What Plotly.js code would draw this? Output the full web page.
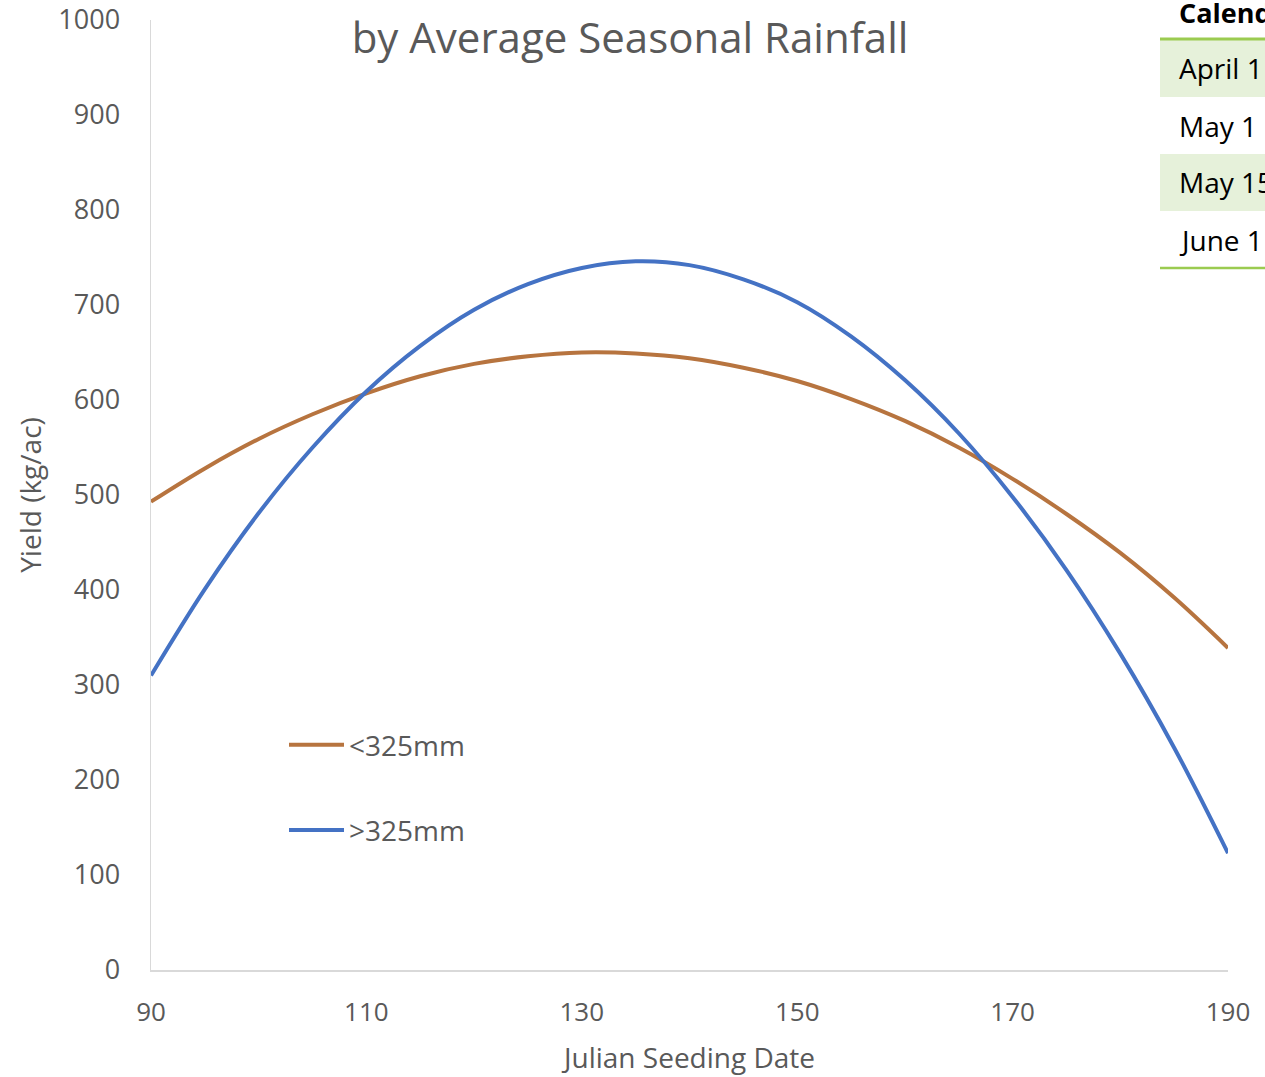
<!DOCTYPE html>
<html>
<head>
<meta charset="utf-8">
<script src="https://cdn.plot.ly/plotly-3.0.1.min.js"></script>
<style>
  html, body { margin: 0; padding: 0; background: #ffffff; overflow: hidden; }
  #chart { width: 1265px; height: 1077px; }
</style>
</head>
<body>
<div id="chart"></div>
<script>
// ---- data ----
const seedingDates = [90, 95, 100, 105, 110, 115, 120, 125, 130, 135, 140, 145, 150, 155, 160, 165, 170, 175, 180, 185, 190];
const yieldLowRain = [493, 528, 559, 585, 607, 625, 638, 646, 650, 649, 644, 634, 620, 601, 578, 550, 517, 480, 439, 392, 339];
const yieldHighRain = [310, 401, 481, 550, 609, 657, 695, 722, 739, 746, 742, 727, 703, 667, 621, 565, 498, 421, 333, 234, 123];
const seriesNames = ['<325mm', '>325mm'];
const xTicks = [90, 110, 130, 150, 170, 190];
const yTicks = [0, 100, 200, 300, 400, 500, 600, 700, 800, 900, 1000];
const tableHeader = 'Calendar Date';
const tableRows = ['April 1', 'May 1', 'May 15', 'June 1'];

// ---- layout geometry ----
const W = 1265, H = 1077;
const M = {l: 151, r: 37, t: 20, b: 107};
const PW = W - M.l - M.r, PH = H - M.t - M.b;
const px = X => (X - M.l) / PW;
const py = Y => (H - M.b - Y) / PH;

const grey = '#595959';
const font = '"Open Sans", "Noto Sans", sans-serif';

const traces = [
  {
    x: seedingDates, y: yieldLowRain, name: seriesNames[0], type: 'scatter', mode: 'lines',
    line: {color: '#B7743F', width: 4, shape: 'spline'}, legendgroup: 'a'
  },
  {
    x: seedingDates, y: yieldHighRain, name: seriesNames[1], type: 'scatter', mode: 'lines',
    line: {color: '#4472C4', width: 4, shape: 'spline'}, legendgroup: 'b'
  }
];

// table on the right (partly cut off by the page edge, as in the reference)
const shapes = [];
const annotations = [];
const rowTops = [40, 97, 154, 211];
const rowH = 57;
rowTops.forEach((top, i) => {
  if (i % 2 === 0) {
    shapes.push({type: 'rect', xref: 'paper', yref: 'paper', layer: 'below',
      x0: px(1160), x1: px(1300), y0: py(top), y1: py(top + rowH),
      fillcolor: '#E6F1DA', line: {width: 0}});
  }
  annotations.push({xref: 'paper', yref: 'paper', x: px(1177), y: py(top + rowH / 2),
    xanchor: 'left', yanchor: 'middle', showarrow: false, text: tableRows[i],
    font: {family: font, size: 28, color: '#000000'}});
});
shapes.push({type: 'line', xref: 'paper', yref: 'paper', x0: px(1160), x1: px(1300), y0: py(39), y1: py(39),
  line: {color: '#9BCB50', width: 3}});
shapes.push({type: 'line', xref: 'paper', yref: 'paper', x0: px(1160), x1: px(1300), y0: py(268), y1: py(268),
  line: {color: '#9BCB50', width: 2.5}});
annotations.push({xref: 'paper', yref: 'paper', x: px(1177), y: py(12),
  xanchor: 'left', yanchor: 'middle', showarrow: false, text: '<b>' + tableHeader + '</b>',
  font: {family: font, size: 27, color: '#000000'}});

const layout = {
  width: W, height: H,
  margin: M,
  paper_bgcolor: '#ffffff', plot_bgcolor: '#ffffff',
  font: {family: font, color: grey},
  title: {
    text: 'by Average Seasonal Rainfall',
    font: {family: font, size: 42, color: grey},
    x: px(630), xref: 'paper', xanchor: 'center',
    y: py(38), yref: 'paper', yanchor: 'middle'
  },
  xaxis: {
    range: [90, 190], tickvals: xTicks, ticktext: xTicks.map(String),
    showline: true, linecolor: '#D9D9D9', linewidth: 1.5,
    showgrid: false, zeroline: false, ticks: '',
    tickfont: {family: font, size: 26, color: grey},
    ticklabelstandoff: 18,
    title: {text: 'Julian Seeding Date', font: {family: font, size: 28, color: grey}, standoff: 20}
  },
  yaxis: {
    range: [0, 1000], tickvals: yTicks, ticktext: yTicks.map(String),
    showline: true, linecolor: '#D9D9D9', linewidth: 1.5,
    showgrid: false, zeroline: false, ticks: '',
    tickfont: {family: font, size: 27, color: grey},
    ticklabelstandoff: 24,
    title: {text: 'Yield (kg/ac)', font: {family: font, size: 28, color: grey}, standoff: 8}
  },
  showlegend: true,
  legend: {
    x: px(284), y: py(720), xanchor: 'left', yanchor: 'top',
    traceorder: 'grouped', tracegroupgap: 46, itemwidth: 55,
    bgcolor: 'rgba(0,0,0,0)', borderwidth: 0,
    font: {family: font, size: 28, color: grey}
  },
  shapes: shapes,
  annotations: annotations
};

Plotly.newPlot('chart', traces, layout, {displayModeBar: false, staticPlot: true});
</script>
</body>
</html>
